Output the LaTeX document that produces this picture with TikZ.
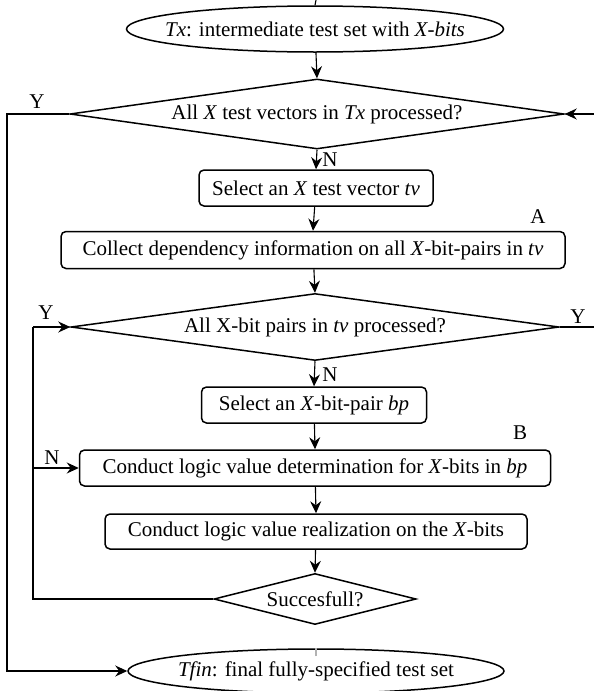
\documentclass[tikz,border=0pt]{standalone}
\usepackage{fontspec}
\setmainfont{Liberation Serif}
\usetikzlibrary{shapes.geometric,arrows.meta}
\begin{document}
\begin{tikzpicture}[x=1pt,y=-1pt,
  font=\fontsize{21}{24}\selectfont,
  shp/.style={draw, line width=1.5pt, inner sep=0pt},
  box/.style={shp, rectangle, rounded corners=5pt},
  dia/.style={shp, diamond},
  ell/.style={shp, ellipse},
  conn/.style={line width=1.1pt},
  arr/.style={conn, -{Stealth[length=12pt,width=11pt,inset=4pt]}},
  lbl/.style={inner sep=0pt}]
\useasboundingbox (0,0) rectangle (594,691);

% start ellipse
\node[ell, minimum width=377pt, minimum height=46pt] (e1) at (315,29) {};
\node[lbl] (e1t) at (e1) {\textit{Tx}: intermediate test set with \textit{X-bits}};

\node[dia, minimum width=494pt, minimum height=70pt] (d1) at (317,114) {};
\node[lbl] (d1t) at (d1) {All \textit{X} test vectors in \textit{Tx} processed?};

\node[box, minimum width=234pt, minimum height=36pt] (b1) at (316,188) {Select an \textit{X} test vector \textit{tv}};

\node[box, minimum width=504pt, minimum height=37pt] (b2) at (313,250) {Collect dependency information on all \textit{X}-bit-pairs in \textit{tv}};

\node[dia, minimum width=488pt, minimum height=67pt] (d2) at (315,327) {};
\node[lbl] (d2t) at (d2) {All X-bit pairs in \textit{tv} processed?};

\node[box, minimum width=225pt, minimum height=36pt] (b3) at (314,405) {Select an \textit{X}-bit-pair \textit{bp}};

\node[box, minimum width=471pt, minimum height=36pt] (b4) at (315,468) {Conduct logic value determination for \textit{X}-bits in \textit{bp}};

\node[box, minimum width=422pt, minimum height=35pt] (b5) at (316,531.5) {Conduct logic value realization on the \textit{X}-bits};

\node[dia, minimum width=202pt, minimum height=51pt] (d3) at (315,599) {};
\node[lbl] (d3t) at (d3) {Succesfull?};

\node[ell, minimum width=376pt, minimum height=44pt] (e2) at (316,671) {};
\node[lbl] (e2t) at (e2) {\textit{Tfin}: final fully-specified test set};

% free ends
\coordinate (top) at (316,0);
\coordinate (rin) at (594,114);
\coordinate (rout) at (594,327);
\coordinate (o1) at (7,114);
\coordinate (o2) at (7,671);
\coordinate (i1) at (33,327);
\coordinate (i2) at (33,599);
\coordinate (i3) at (33,468);

% connectors
\draw[conn] (top) -- (e1.north);
\draw[arr] (e1) -- (d1.north);
\draw[arr] (rin) -- (d1.east);
\draw[arr] (d1.south) -- (b1.north);
\draw[arr] (b1) -- (b2.north);
\draw[arr] (b2) -- (d2.north);
\draw[conn] (d2.east) -- (rout);
\draw[arr] (d2.south) -- (b3.north);
\draw[arr] (b3) -- (b4.north);
\draw[arr] (b4) -- (b5.north);
\draw[arr] (b5) -- (d3.north);
\draw[conn] (d3.west) -- (i2) -- (i1);
\draw[arr] (i1) -- (d2.west);
\draw[arr] (i3) -- (b4.west);
\draw[arr] (d1.west) -- (o1) -- (o2) -- (e2.west);
\draw[conn, gray!60] ([yshift=-8pt]e2.north) -- (e2.north);

% labels
\node[lbl] (ly1) at (37,102) {Y};
\node[lbl] (ln1) at (330,160) {N};
\node[lbl] (la) at (538,217) {A};
\node[lbl] (ly2) at (46,313) {Y};
\node[lbl] (ly3) at (578,317) {Y};
\node[lbl] (ln2) at (330,375) {N};
\node[lbl] (lb) at (520,433) {B};
\node[lbl] (ln3) at (52,458) {N};
\end{tikzpicture}
\end{document}
